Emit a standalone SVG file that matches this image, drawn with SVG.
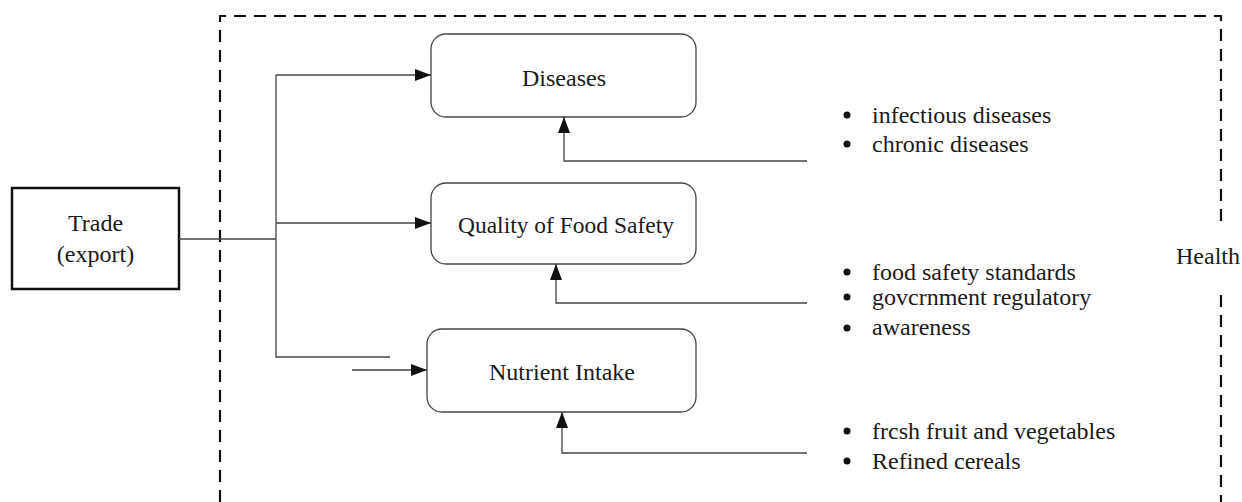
<svg xmlns="http://www.w3.org/2000/svg" width="1242" height="502" viewBox="0 0 1242 502" font-family="'Liberation Serif', 'DejaVu Serif', serif">
<style>
text{font-family:'Liberation Serif','DejaVu Serif',serif;font-size:24px;fill:#1a1a1a}
.c{text-anchor:middle}
.rb{fill:#fff;stroke:#444;stroke-width:1.3}
.ln{fill:none;stroke:#444;stroke-width:1.3}
.dash{fill:none;stroke:#111;stroke-width:2.2;stroke-dasharray:12 8}
.b{fill:#111}
</style>
<defs>
<marker id="ah" viewBox="0 0 16 12" refX="16" refY="6" markerWidth="16" markerHeight="12" markerUnits="userSpaceOnUse" orient="auto">
<path d="M0,0 L16,6 L0,12 Z" fill="#111"/>
</marker>
</defs>
<g id="health-boundary">
<path class="dash" d="M220,502 L220,16 L1221,16 L1221,224"/>
<path class="dash" d="M1221,295 L1221,502"/>
<text x="1176" y="264">Health</text>
</g>
<g id="trade">
<rect x="12" y="188" width="167" height="101" fill="#fff" stroke="#111" stroke-width="2.5"/>
<text class="c" x="95.5" y="231">Trade</text>
<text class="c" x="95.5" y="262">(export)</text>
</g>
<g id="diseases">
<rect class="rb" x="431" y="34" width="265" height="83" rx="15"/>
<text class="c" x="564" y="86">Diseases</text>
</g>
<g id="food-safety">
<rect class="rb" x="431" y="183" width="265" height="81" rx="15"/>
<text class="c" x="566" y="233" style="font-size:23.5px">Quality of Food Safety</text>
</g>
<g id="nutrient">
<rect class="rb" x="427" y="329" width="269" height="83" rx="15"/>
<text class="c" x="562" y="380">Nutrient Intake</text>
</g>
<g id="diseases-factors">
<circle class="b" cx="847" cy="115" r="3.5"/>
<text x="872" y="123">infectious diseases</text>
<circle class="b" cx="847" cy="144" r="3.5"/>
<text x="872" y="152">chronic diseases</text>
</g>
<g id="food-safety-factors">
<circle class="b" cx="847" cy="272" r="3.5"/>
<text x="872" y="280">food safety standards</text>
<circle class="b" cx="847" cy="297" r="3.5"/>
<text x="872" y="305">govcrnment regulatory</text>
<circle class="b" cx="847" cy="328" r="3.5"/>
<text x="872" y="335">awareness</text>
</g>
<g id="nutrient-factors">
<circle class="b" cx="847" cy="431" r="3.5"/>
<text x="872" y="439">frcsh fruit and vegetables</text>
<circle class="b" cx="847" cy="461" r="3.5"/>
<text x="872" y="469">Refined cereals</text>
</g>
<g id="connectors">
<path class="ln" d="M179,239 L276,239"/>
<path class="ln" d="M276,75 L276,357 L390,357"/>
<path class="ln" d="M276,75 L431,75" marker-end="url(#ah)"/>
<path class="ln" d="M276,223 L431,223" marker-end="url(#ah)"/>
<path class="ln" d="M352,370 L427,370" marker-end="url(#ah)"/>
<path class="ln" d="M807,161 L564,161 L564,117" marker-end="url(#ah)"/>
<path class="ln" d="M807,303 L556,303 L556,264" marker-end="url(#ah)"/>
<path class="ln" d="M807,453 L562,453 L562,412" marker-end="url(#ah)"/>
</g>
</svg>
